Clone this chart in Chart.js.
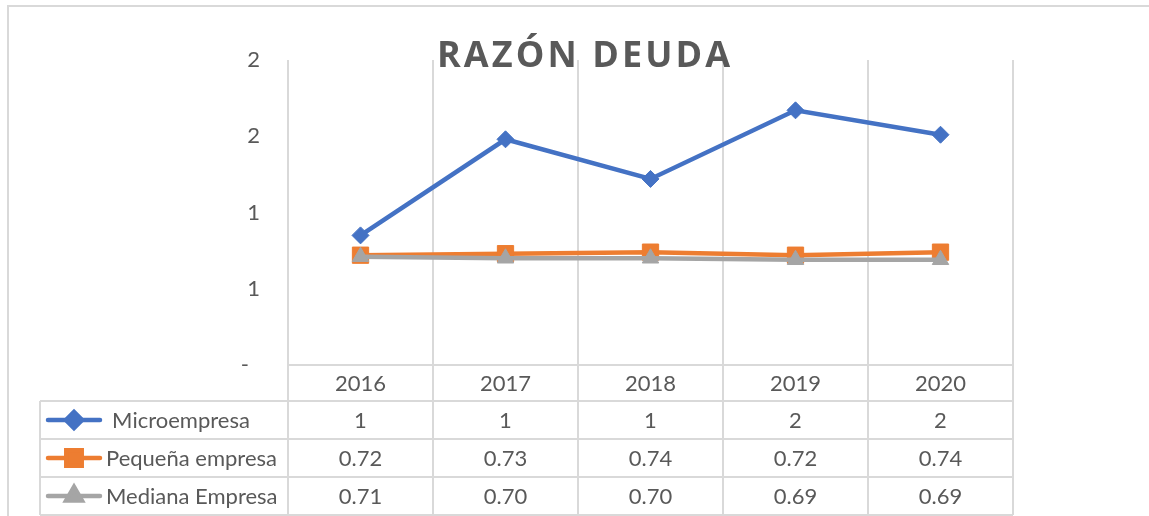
<!DOCTYPE html>
<html>
<head>
<meta charset="utf-8">
<script src="https://cdn.jsdelivr.net/npm/chart.js@4.4.0/dist/chart.umd.min.js"></script>
<style>
html,body{margin:0;padding:0;background:#ffffff;}
#wrap{width:1149px;height:516px;position:relative;overflow:hidden;}
</style>
</head>
<body>
<div id="wrap"><canvas id="c" width="1149" height="516"></canvas></div>
<script>
// ---- DATA ----
const chartTitle = 'RAZÓN DEUDA';
const categories = ['2016', '2017', '2018', '2019', '2020'];
const seriesNames = ['Microempresa', 'Pequeña empresa', 'Mediana Empresa'];
const microValues = [0.85, 1.48, 1.22, 1.67, 1.51];
const pequenaValues = [0.72, 0.73, 0.74, 0.72, 0.74];
const medianaValues = [0.71, 0.70, 0.70, 0.69, 0.69];
const tableDecimals = [0, 2, 2];
const yTickLabels = ['-\u2002', '1', '1', '2', '2'];

// ---- STYLE ----
const TEXT = '#595959';
const GRID = '#d9d9d9';
const FONT = 'Lato, "Open Sans", sans-serif';
const TITLE_FONT = '"Open Sans", Lato, sans-serif';

const tablePlugin = {
  id: 'tablePlugin',
  afterDraw(chart) {
    const ctx = chart.ctx;
    const ca = chart.chartArea;
    const n = categories.length;
    const colW = (ca.right - ca.left) / n;
    const edges = [];
    for (let i = 0; i <= n; i++) edges.push(ca.left + i * colW);
    const headerH = 36, rowH = 38, legendLeft = 40;
    const rows = [ca.bottom, ca.bottom + headerH];
    for (let r = 1; r <= seriesNames.length; r++) rows.push(ca.bottom + headerH + r * rowH);

    ctx.save();
    // outer chart border
    ctx.strokeStyle = GRID;
    ctx.lineWidth = 2;
    ctx.beginPath();
    ctx.moveTo(8, 520); ctx.lineTo(8, 6); ctx.lineTo(1160, 6);
    ctx.stroke();

    // table grid
    ctx.beginPath();
    ctx.moveTo(ca.left, rows[0]); ctx.lineTo(ca.right, rows[0]);
    for (let r = 1; r < rows.length; r++) {
      ctx.moveTo(legendLeft, rows[r]); ctx.lineTo(ca.right, rows[r]);
    }
    ctx.moveTo(legendLeft, rows[1]); ctx.lineTo(legendLeft, rows[rows.length - 1]);
    edges.forEach(x => { ctx.moveTo(x, rows[0]); ctx.lineTo(x, rows[rows.length - 1]); });
    ctx.stroke();

    // header years
    ctx.fillStyle = TEXT;
    ctx.font = '22px ' + FONT;
    ctx.textAlign = 'center';
    ctx.textBaseline = 'middle';
    categories.forEach((c, i) => {
      ctx.fillText(c, (edges[i] + edges[i + 1]) / 2, (rows[0] + rows[1]) / 2 + 1);
    });

    // rows
    const dsets = chart.data.datasets;
    dsets.forEach((ds, r) => {
      const yc = (rows[r + 1] + rows[r + 2]) / 2;
      // legend sample
      ctx.strokeStyle = ds.borderColor;
      ctx.lineWidth = ds.borderWidth;
      ctx.lineCap = 'round';
      ctx.beginPath();
      ctx.moveTo(48, yc); ctx.lineTo(100, yc);
      ctx.stroke();
      ctx.lineCap = 'butt';
      ctx.fillStyle = ds.pointBackgroundColor;
      ctx.strokeStyle = ds.pointBorderColor;
      Chart.helpers.drawPoint(ctx, {
        pointStyle: ds.pointStyle,
        rotation: 0,
        radius: ds.pointRadius * 0.95,
        borderWidth: 1
      }, 74, yc);
      // legend text
      ctx.fillStyle = TEXT;
      ctx.font = '22px ' + FONT;
      ctx.textAlign = 'left';
      const w = ctx.measureText(ds.label).width;
      ctx.fillText(ds.label, Math.max(106, 181 - w / 2), yc + 1);
      // values
      ctx.textAlign = 'center';
      ds.data.forEach((v, i) => {
        ctx.fillText(v.toFixed(tableDecimals[r]), (edges[i] + edges[i + 1]) / 2, yc + 1);
      });
    });

    // title with letter spacing
    ctx.font = 'bold 36px ' + TITLE_FONT;
    ctx.fillStyle = TEXT;
    ctx.textAlign = 'left';
    ctx.textBaseline = 'alphabetic';
    const chars = Array.from(chartTitle);
    const widths = chars.map(ch => ctx.measureText(ch).width);
    let inked = 0;
    widths.forEach(wd => inked += wd);
    const spacing = Math.max(1, (293 - inked) / (chars.length - 1));
    const total = inked + spacing * (chars.length - 1);
    let x = 583.5 - total / 2;
    chars.forEach((ch, i) => {
      ctx.fillText(ch, x, 67);
      x += widths[i] + spacing;
    });
    ctx.restore();
  }
};

const chart = new Chart(document.getElementById('c'), {
  type: 'line',
  data: {
    labels: categories,
    datasets: [
      {
        label: seriesNames[0], data: microValues,
        borderColor: '#4472C4', backgroundColor: '#4472C4',
        pointBackgroundColor: '#4472C4', pointBorderColor: '#4472C4',
        borderWidth: 4.5, pointStyle: 'rectRot', pointRadius: 8.5, pointBorderWidth: 1,
        tension: 0, order: 0
      },
      {
        label: seriesNames[1], data: pequenaValues,
        borderColor: '#ED7D31', backgroundColor: '#ED7D31',
        pointBackgroundColor: '#ED7D31', pointBorderColor: '#ED7D31',
        borderWidth: 4.5, pointStyle: 'rect', pointRadius: 11.5, pointBorderWidth: 1,
        tension: 0, order: 2
      },
      {
        label: seriesNames[2], data: medianaValues,
        borderColor: '#A5A5A5', backgroundColor: '#A5A5A5',
        pointBackgroundColor: '#A5A5A5', pointBorderColor: '#A5A5A5',
        borderWidth: 4.5, pointStyle: 'triangle', pointRadius: 9.5, pointBorderWidth: 1,
        tension: 0, order: 1
      }
    ]
  },
  options: {
    responsive: false,
    animation: false,
    devicePixelRatio: 1,
    layout: { padding: { top: 60, right: 136, left: 0, bottom: 0 } },
    plugins: {
      legend: { display: false },
      title: { display: false },
      tooltip: { enabled: false }
    },
    scales: {
      x: {
        type: 'category',
        offset: true,
        grid: { offset: true, color: GRID, lineWidth: 2, drawTicks: false },
        border: { display: true, color: GRID, width: 2 },
        ticks: { display: false },
        afterFit(scale) { scale.height = 151; }
      },
      y: {
        min: 0, max: 2,
        grid: { display: false, drawTicks: false },
        border: { display: false },
        ticks: {
          stepSize: 0.5,
          padding: 28,
          color: TEXT,
          font: { family: FONT, size: 22 },
          callback: (v, i) => yTickLabels[i]
        },
        afterFit(scale) { scale.width = 288; }
      }
    }
  },
  plugins: [tablePlugin]
});
</script>
</body>
</html>
